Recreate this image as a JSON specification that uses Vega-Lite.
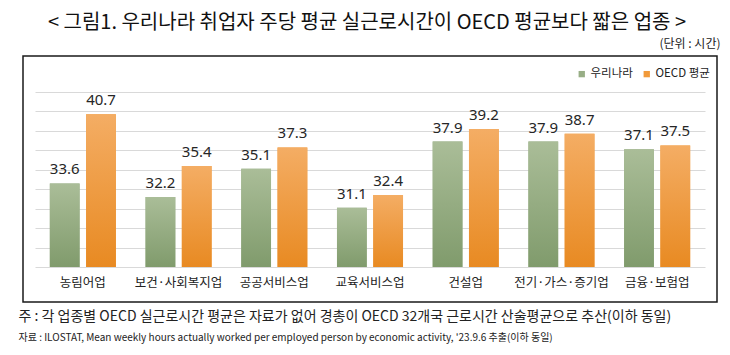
{
  "$schema": "https://vega.github.io/schema/vega-lite/v6.json",
  "width": 694,
  "height": 246,
  "autosize": "none",
  "padding": {"left": 23, "top": 56, "right": 13, "bottom": 53},
  "background": "white",
  "config": {
    "view": {"stroke": "#1a1a1a", "strokeWidth": 1.5},
    "font": "Noto Sans CJK KR"
  },
  "title": {
    "text": "< 그림1. 우리나라 취업자 주당 평균 실근로시간이 OECD 평균보다 짧은 업종 >",
    "anchor": "middle",
    "font": "Noto Sans CJK KR",
    "fontSize": 20,
    "fontWeight": "normal",
    "color": "#111111",
    "offset": 4,
    "dx": -3
  },
  "data": {
    "values": [
      {"industry": "농림어업", "series": "우리나라", "hours": 33.6},
      {"industry": "농림어업", "series": "OECD 평균", "hours": 40.7},
      {"industry": "보건·사회복지업", "series": "우리나라", "hours": 32.2},
      {"industry": "보건·사회복지업", "series": "OECD 평균", "hours": 35.4},
      {"industry": "공공서비스업", "series": "우리나라", "hours": 35.1},
      {"industry": "공공서비스업", "series": "OECD 평균", "hours": 37.3},
      {"industry": "교육서비스업", "series": "우리나라", "hours": 31.1},
      {"industry": "교육서비스업", "series": "OECD 평균", "hours": 32.4},
      {"industry": "건설업", "series": "우리나라", "hours": 37.9},
      {"industry": "건설업", "series": "OECD 평균", "hours": 39.2},
      {"industry": "전기·가스·증기업", "series": "우리나라", "hours": 37.9},
      {"industry": "전기·가스·증기업", "series": "OECD 평균", "hours": 38.7},
      {"industry": "금융·보험업", "series": "우리나라", "hours": 37.1},
      {"industry": "금융·보험업", "series": "OECD 평균", "hours": 37.5}
    ]
  },
  "encoding": {
    "xOffset": {
      "field": "series",
      "type": "nominal",
      "sort": null,
      "scale": {"domain": ["우리나라", "OECD 평균"], "paddingInner": 0.18}
    },
    "y": {
      "field": "hours",
      "type": "quantitative",
      "scale": {"domain": [25, 43], "range": [211, 36], "zero": false, "nice": false},
      "axis": {
        "orient": "right",
        "values": [25, 27, 29, 31, 33, 35, 37, 39, 41, 43],
        "labels": false,
        "ticks": false,
        "domain": false,
        "grid": true,
        "gridColor": "#d9d9d9",
        "gridWidth": 1,
        "title": "(단위 : 시간)",
        "titleAngle": 0,
        "titleAlign": "right",
        "titleBaseline": "alphabetic",
        "titleX": 3,
        "titleY": -9,
        "titleFont": "Noto Sans CJK KR",
        "titleFontSize": 12,
        "titleFontWeight": "normal",
        "titleColor": "#222222"
      }
    }
  },
  "resolve": {"axis": {"x": "independent"}},
  "layer": [
    {
      "mark": {"type": "bar"},
      "encoding": {
        "x": {
          "field": "industry",
          "type": "nominal",
          "sort": null,
          "scale": {"range": [12, 682], "paddingInner": 0.31, "paddingOuter": 0.155},
          "axis": {
            "orient": "bottom",
            "offset": -35,
            "labelPadding": 9,
            "ticks": false,
            "domain": false,
            "labelAngle": 0,
            "labelFont": "Noto Sans CJK KR",
            "labelFontSize": 12.5,
            "labelColor": "#222222",
            "title": "주 : 각 업종별 OECD 실근로시간 평균은 자료가 없어 경총이 OECD 32개국 근로시간 산술평균으로 추산(이하 동일)",
            "titleFont": "Noto Sans CJK KR",
            "titleFontSize": 14,
            "titleFontWeight": "normal",
            "titleColor": "#222222",
            "titleAlign": "left",
            "titleAnchor": "start",
            "titleBaseline": "top",
            "titleX": -5,
            "titleY": 42
          }
        },
        "y2": {"datum": 25},
        "color": {
          "field": "series",
          "type": "nominal",
          "scale": {"domain": ["우리나라", "OECD 평균"], "range": ["#98ae86", "#f19a3a"]},
          "legend": {
            "orient": "none",
            "legendX": 553,
            "legendY": 12,
            "direction": "horizontal",
            "title": null,
            "symbolType": "square",
            "symbolSize": 40,
            "symbolStrokeWidth": 0,
            "labelFont": "Noto Sans CJK KR",
            "labelFontSize": 11.5,
            "labelColor": "#222222",
            "labelOffset": 3,
            "columnPadding": 8
          }
        }
      }
    },
    {
      "transform": [{"filter": "datum.series === '우리나라'"}],
      "mark": {
        "type": "bar",
        "color": {
          "gradient": "linear", "x1": 0, "y1": 0, "x2": 0, "y2": 1,
          "stops": [{"offset": 0, "color": "#aabd98"}, {"offset": 1, "color": "#809b6c"}]
        }
      },
      "encoding": {
        "x": {"field": "industry", "type": "nominal", "sort": null, "axis": null},
        "y2": {"datum": 25}
      }
    },
    {
      "transform": [{"filter": "datum.series === 'OECD 평균'"}],
      "mark": {
        "type": "bar",
        "color": {
          "gradient": "linear", "x1": 0, "y1": 0, "x2": 0, "y2": 1,
          "stops": [{"offset": 0, "color": "#f4ad64"}, {"offset": 1, "color": "#e88a22"}]
        }
      },
      "encoding": {
        "x": {"field": "industry", "type": "nominal", "sort": null, "axis": null},
        "y2": {"datum": 25}
      }
    },
    {
      "mark": {"type": "text", "baseline": "alphabetic", "dy": -9, "font": "Noto Sans", "fontSize": 15, "color": "#262626"},
      "encoding": {
        "x": {
          "field": "industry",
          "type": "nominal",
          "sort": null,
          "axis": {
            "orient": "bottom",
            "offset": -35,
            "labels": false,
            "ticks": false,
            "domain": false,
            "grid": false,
            "title": "자료 : ILOSTAT, Mean weekly hours actually worked per employed person by economic activity, '23.9.6 추출(이하 동일)",
            "titleFont": "Noto Sans CJK KR",
            "titleFontSize": 10,
            "titleFontWeight": "normal",
            "titleColor": "#222222",
            "titleAlign": "left",
            "titleAnchor": "start",
            "titleBaseline": "top",
            "titleX": -5,
            "titleY": 65
          }
        },
        "text": {"field": "hours", "type": "quantitative", "format": ".1f"}
      }
    }
  ]
}
